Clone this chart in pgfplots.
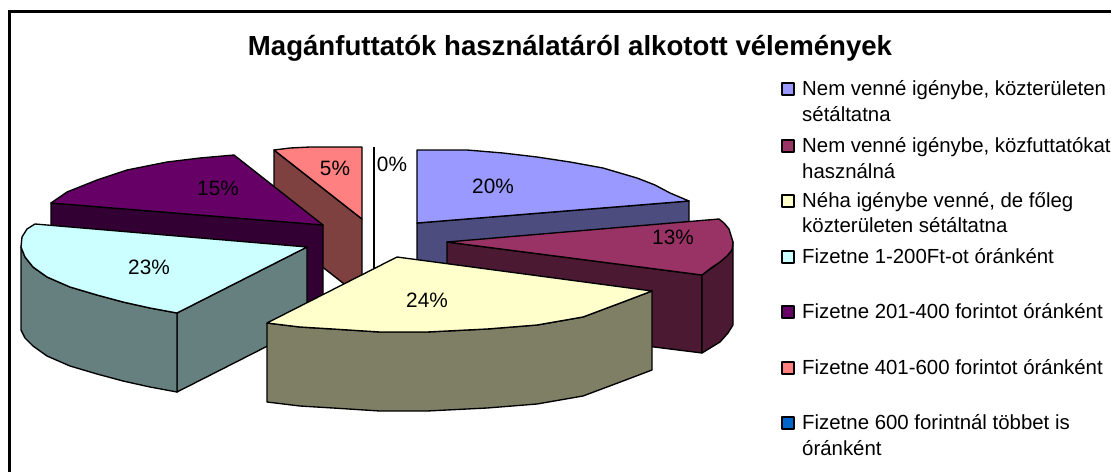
\documentclass[border=0pt]{standalone}
\usepackage{fontspec}
\setmainfont{Liberation Sans}
\usepackage{pgfplots}
\pgfplotsset{compat=1.18}
\definecolor{cA}{HTML}{9999FF}\definecolor{cAd}{HTML}{4C4C7F}
\definecolor{cB}{HTML}{993366}\definecolor{cBd}{HTML}{4C1933}
\definecolor{cC}{HTML}{FFFFCC}\definecolor{cCd}{HTML}{7F7F66}
\definecolor{cD}{HTML}{CCFFFF}\definecolor{cDd}{HTML}{667F7F}
\definecolor{cE}{HTML}{660066}\definecolor{cEd}{HTML}{330033}
\definecolor{cF}{HTML}{FF8080}\definecolor{cFd}{HTML}{7F4040}
\definecolor{cG}{HTML}{0066CC}
\tikzset{
  lg/.style={font=\fontsize{20.4}{24}\selectfont,anchor=base west,inner sep=0pt},
  pc/.style={font=\fontsize{20.8}{24}\selectfont,anchor=base,inner sep=0pt},
}
\begin{document}
\begin{tikzpicture}
\useasboundingbox (0pt,0pt) rectangle (1111pt,472pt);
\begin{axis}[
  at={(0pt,0pt)},anchor=south west,
  scale only axis,width=1111pt,height=472pt,
  xmin=0,xmax=1111,ymin=0,ymax=472,y dir=reverse,
  hide axis,clip=false,
  every axis plot/.append style={draw=black,line width=1.35pt,line join=round,no markers},
]
% frame
\addplot[line width=2.1pt,line join=miter] coordinates {(9.5,472) (9.5,11.5) (1111,11.5)};
% blue 20%
\addplot[fill=cAd] coordinates {(417,223) (689,201) (689,280) (417,302)} --cycle;
\addplot[fill=cA] coordinates {(417,150) (467,150) (503,153) (537,157) (570,162) (603,168) (637,178) (655,185) (670,193) (689,201) (417,223)} --cycle;
% maroon 13%
\addplot[fill=cBd] coordinates {(447,242) (702,275) (702,353) (447,321)} --cycle;
\addplot[fill=cBd] coordinates {(702,275) (720,262) (733,242) (733,325) (728,333) (720,342) (702,353)} --cycle;
\addplot[fill=cB] coordinates {(447,242) (719,219) (724,223) (729,229) (733,242) (732,250) (727,256) (720,262) (711,268) (702,275)} --cycle;
% pink 5%
\addplot[fill=cFd] coordinates {(274,150) (362,219) (362,298) (274,229)} --cycle;
\addplot[fill=cF] coordinates {(274,150) (290,148) (310,147) (362,147) (362,219)} --cycle;
% zero slice
\addplot[line width=1.35pt] coordinates {(374,147) (374,300)};
% purple 15%
\addplot[fill=cEd] coordinates {(51,203) (323,225) (323,304) (51,282)} --cycle;
\addplot[fill=cE] coordinates {(51,203) (67,192) (82,186) (97,180) (127,170) (167,162) (200,158) (234,155) (323,225)} --cycle;
% teal 23%
\addplot[fill=cDd] coordinates {(177,313) (307,247) (307,326) (177,392)} --cycle;
\addplot[fill=cDd] coordinates {(21,247) (25,257) (33,267) (47,277) (70,287) (97,295) (123,302) (150,308) (177,313) (177,392) (150,387) (123,381) (97,374) (70,366) (47,356) (33,346) (25,338) (21,330)} --cycle;
\addplot[fill=cD] coordinates {(35,224) (307,247) (177,313) (150,308) (123,302) (97,295) (70,287) (47,277) (33,267) (25,257) (21,247) (22,237) (27,229)} --cycle;
% yellow 24%
\addplot[fill=cCd] coordinates {(267,323) (300,327) (333,329) (380,332) (427,332) (487,329) (537,325) (583,317) (623,302) (652,291) (652,370) (623,381) (583,396) (537,404) (487,408) (427,411) (380,411) (333,408) (300,406) (267,402)} --cycle;
\addplot[fill=cC] coordinates {(267,323) (397,257) (652,291) (623,302) (583,317) (537,325) (487,329) (427,332) (380,332) (333,329) (300,327)} --cycle;
% legend swatches
\addplot[fill=cA] coordinates {(782,83) (794,83) (794,95) (782,95)} --cycle;
\addplot[fill=cB] coordinates {(782,140) (794,140) (794,152) (782,152)} --cycle;
\addplot[fill=cC] coordinates {(782,195) (794,195) (794,207) (782,207)} --cycle;
\addplot[fill=cD] coordinates {(782,251) (794,251) (794,263) (782,263)} --cycle;
\addplot[fill=cE] coordinates {(782,306) (794,306) (794,318) (782,318)} --cycle;
\addplot[fill=cF] coordinates {(782,362) (794,362) (794,374) (782,374)} --cycle;
\addplot[fill=cG] coordinates {(782,417) (794,417) (794,429) (782,429)} --cycle;
% texts
\node[font=\fontsize{27.6}{30}\selectfont\bfseries,anchor=base,inner sep=0pt] at (axis cs:570,55) {Magánfuttatók használatáról alkotott vélemények};
\node[lg] at (axis cs:802,95) {Nem venné igénybe, közterületen};
\node[lg] at (axis cs:802,121) {sétáltatna};
\node[lg] at (axis cs:802,152) {Nem venné igénybe, közfuttatókat};
\node[lg] at (axis cs:802,178) {használná};
\node[lg] at (axis cs:802,207) {Néha igénybe venné, de főleg};
\node[lg] at (axis cs:802,232) {közterületen sétáltatna};
\node[lg] at (axis cs:802,263) {Fizetne 1-200Ft-ot óránként};
\node[lg] at (axis cs:802,318) {Fizetne 201-400 forintot óránként};
\node[lg] at (axis cs:802,374) {Fizetne 401-600 forintot óránként};
\node[lg] at (axis cs:802,429) {Fizetne 600 forintnál többet is};
\node[lg] at (axis cs:802,455) {óránként};
\node[pc] at (axis cs:493,193) {20\%};
\node[pc] at (axis cs:673,244) {13\%};
\node[pc] at (axis cs:427,307) {24\%};
\node[pc] at (axis cs:149,274) {23\%};
\node[pc] at (axis cs:218,195) {15\%};
\node[pc] at (axis cs:335,175) {5\%};
\node[pc] at (axis cs:392,171) {0\%};
\end{axis}
\end{tikzpicture}
\end{document}
